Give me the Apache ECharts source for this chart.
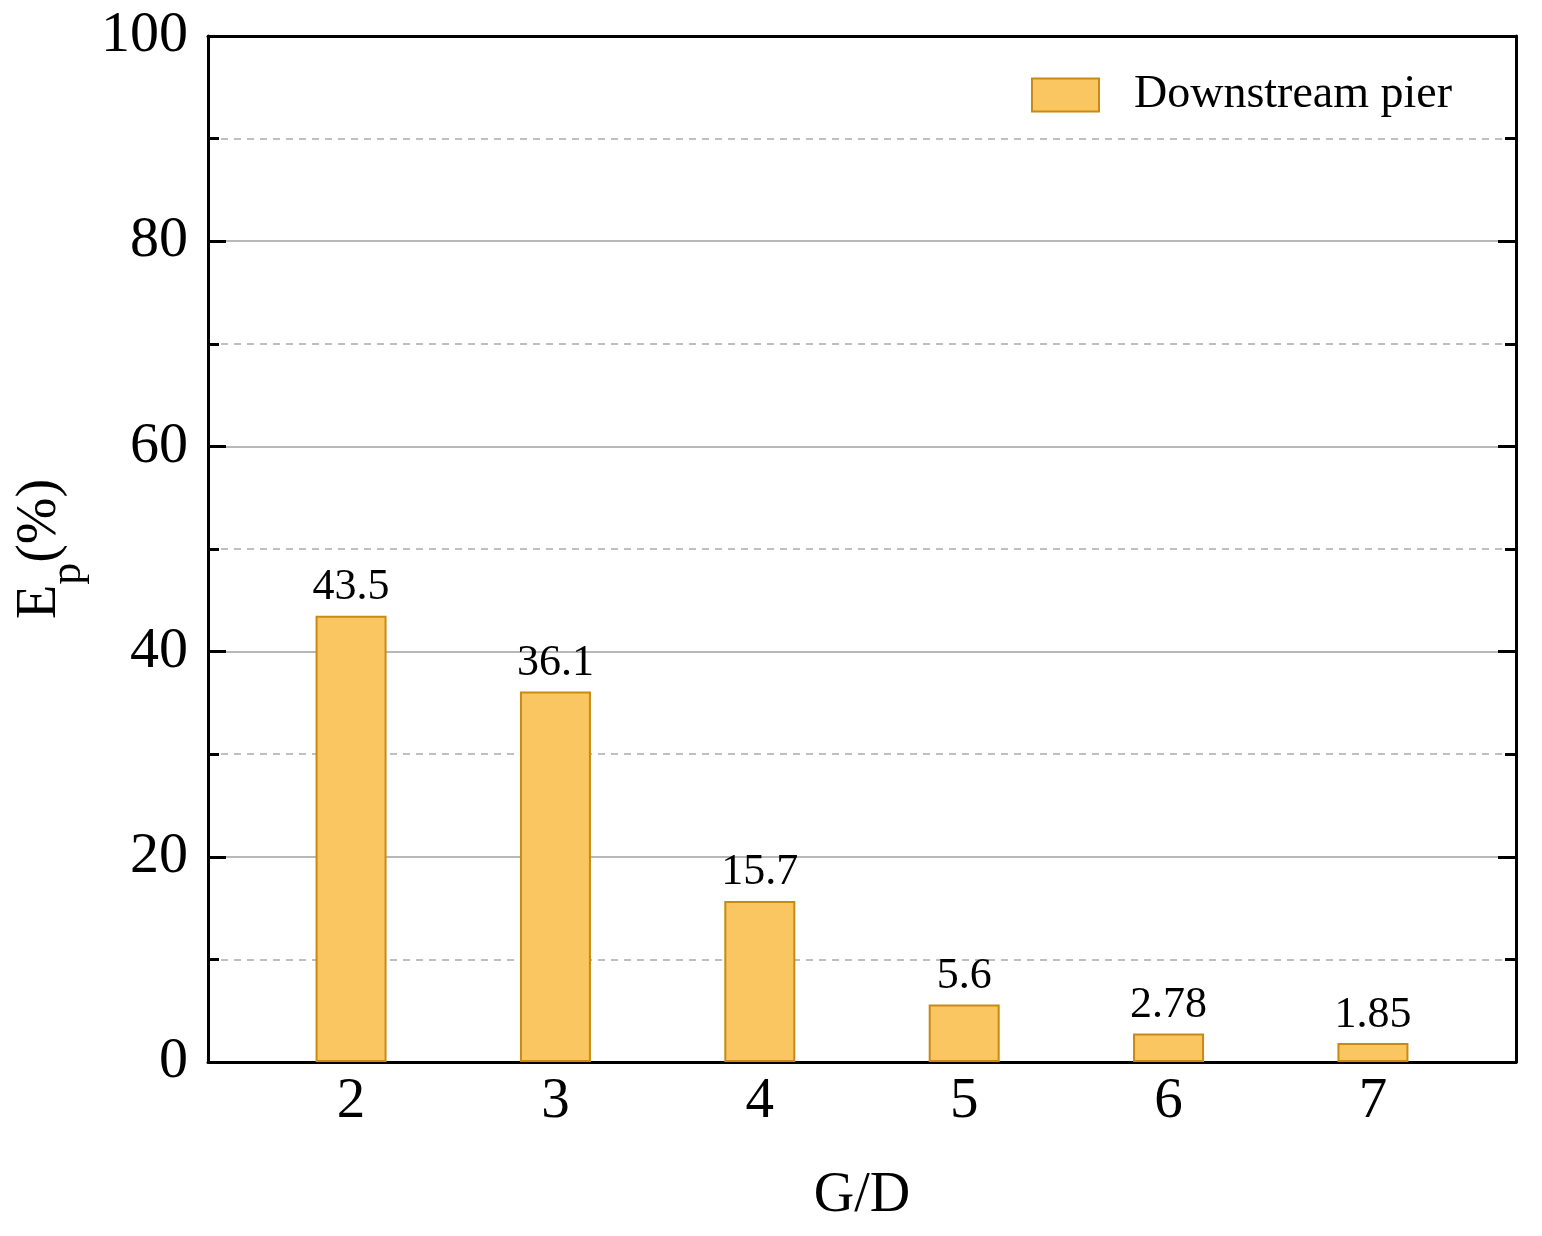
<!DOCTYPE html>
<html><head><meta charset="utf-8">
<script src="https://cdn.jsdelivr.net/npm/echarts@6/dist/echarts.min.js"></script>
<style>html,body{margin:0;padding:0;background:#fff}#c{width:1542px;height:1236px}</style>
</head><body><div id="c"></div>
<script>
var categories = [2, 3, 4, 5, 6, 7];
var values = [43.5, 36.1, 15.7, 5.6, 2.78, 1.85];
var seriesName = 'Downstream pier';
var yTicks = [0, 20, 40, 60, 80, 100];

var font = 'Liberation Serif, Times New Roman, serif';
var chart = echarts.init(document.getElementById('c'));
var data = categories.map(function (c, i) { return [c, values[i]]; });
var tickStyle = { color: '#000', width: 3 };
chart.setOption({
  animation: false,
  grid: { left: 208, right: 26, top: 36, bottom: 174 },
  legend: {
    left: 1031, top: 72, padding: 0,
    itemWidth: 67, itemHeight: 33,
    icon: 'rect',
    textStyle: { fontFamily: font, fontSize: 46, color: '#000', padding: [6, 0, 0, 30], lineHeight: 40 },
    data: [seriesName]
  },
  xAxis: [{
    type: 'value', min: 1.3, max: 7.7, interval: 0.1,
    name: 'G/D', nameLocation: 'middle', nameGap: 106,
    nameTextStyle: { fontFamily: font, fontSize: 56, color: '#000' },
    axisLine: { show: true, onZero: false, lineStyle: { color: '#000', width: 3 } },
    axisTick: { show: false },
    splitLine: { show: false },
    axisLabel: {
      fontFamily: font, fontSize: 57, color: '#000', margin: 12,
      formatter: function (v) { return Math.abs(v - Math.round(v)) < 1e-6 && categories.indexOf(Math.round(v)) >= 0 ? String(Math.round(v)) : ''; }
    }
  }, {
    type: 'value', min: 1.3, max: 7.7, position: 'top',
    axisLine: { show: true, onZero: false, lineStyle: { color: '#000', width: 3 } },
    axisTick: { show: false }, axisLabel: { show: false }, splitLine: { show: false }
  }],
  yAxis: [{
    type: 'value', min: yTicks[0], max: yTicks[yTicks.length - 1], interval: 20,
    name: 'E{sub|p}(%)', nameLocation: 'middle', nameGap: 130,
    nameTextStyle: {
      fontFamily: font, fontSize: 56, color: '#000',
      rich: { sub: { fontFamily: font, fontSize: 44, color: '#000', verticalAlign: 'bottom', padding: [0, 0, -22, 0] } }
    },
    axisLine: { show: true, onZero: false, lineStyle: { color: '#000', width: 3 } },
    axisTick: { show: true, inside: true, length: 18, lineStyle: tickStyle },
    minorTick: { show: true, splitNumber: 2, length: 11, lineStyle: tickStyle },
    splitLine: { show: true, lineStyle: { color: '#a0a0a0', width: 1.5 } },
    minorSplitLine: { show: true, lineStyle: { color: '#ababab', width: 1.5, type: [7, 6] } },
    axisLabel: { fontFamily: font, fontSize: 58, color: '#000', margin: 20 }
  }, {
    type: 'value', min: yTicks[0], max: yTicks[yTicks.length - 1], interval: 20, position: 'right',
    axisLine: { show: true, onZero: false, lineStyle: { color: '#000', width: 3 } },
    axisTick: { show: true, inside: true, length: 18, lineStyle: tickStyle },
    minorTick: { show: true, splitNumber: 2, length: 11, lineStyle: tickStyle },
    splitLine: { show: false }, axisLabel: { show: false }
  }],
  series: [{
    name: seriesName, type: 'bar', barWidth: 71,
    data: data,
    itemStyle: { color: '#F9C662', borderColor: '#C98A12', borderWidth: 2 },
    label: { show: true, position: 'top', distance: 6, fontFamily: font, fontSize: 44, color: '#000' }
  }]
});
</script></body></html>
